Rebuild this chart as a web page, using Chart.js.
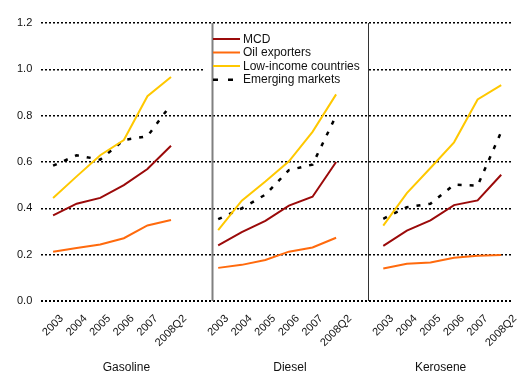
<!DOCTYPE html>
<html>
<head>
<meta charset="utf-8">
<script src="https://cdn.jsdelivr.net/npm/chart.js@4"></script>
<style>
  body { margin: 0; background: #fff; }
  #wrap { width: 518px; height: 374px; }
</style>
</head>
<body>
<div id="wrap"><canvas id="myChart" width="518" height="374"></canvas></div>
<script>
const years = ["2003", "2004", "2005", "2006", "2007", "2008Q2"];
const products = ["Gasoline", "Diesel", "Kerosene"];
const yTicks = [0, 0.2, 0.4, 0.6, 0.8, 1.0, 1.2];

// each series: gasoline, gap, diesel, gap, kerosene
const mcd = [0.37, 0.42, 0.445, 0.5, 0.57, 0.67, null,
  0.24, 0.297, 0.346, 0.412, 0.45, 0.6, null,
  0.238, 0.304, 0.348, 0.414, 0.434, 0.545];
const oilExporters = [0.213, 0.229, 0.244, 0.271, 0.326, 0.35, null,
  0.143, 0.156, 0.177, 0.213, 0.231, 0.273, null,
  0.14, 0.161, 0.166, 0.187, 0.195, 0.199];
const lowIncome = [0.445, 0.538, 0.629, 0.695, 0.884, 0.967, null,
  0.306, 0.433, 0.516, 0.603, 0.73, 0.892, null,
  0.325, 0.466, 0.574, 0.685, 0.87, 0.932];
const emerging = [0.584, 0.629, 0.61, 0.695, 0.711, 0.848, null,
  0.353, 0.4, 0.459, 0.565, 0.589, 0.8, null,
  0.355, 0.405, 0.42, 0.502, 0.498, 0.73];

// labels with a blank slot between the product groups
let labels = [];
products.forEach((p, i) => {
  if (i > 0) labels.push("");
  years.forEach((y) => labels.push(y));
});

const FONT = "Arial, 'Liberation Sans', sans-serif";
const SEPS = [6.72, 13.36];

const panelPlugin = {
  id: "panels",
  beforeDatasetsDraw(chart) {
    const { ctx, chartArea, scales } = chart;
    const x = scales.x;
    // white legend box
    const lx = 203, ly = 30, lw = 166, lh = 55;
    ctx.save();
    ctx.fillStyle = "#fff";
    ctx.fillRect(lx, ly, lw, lh);

    // separators between panels
    const sepStyle = [["#808080", 2], ["#333", 1]];
    SEPS.forEach((s, i) => {
      const px = Math.round(x.getPixelForValue(s)) + 0.5;
      ctx.strokeStyle = sepStyle[i][0];
      ctx.lineWidth = sepStyle[i][1];
      ctx.beginPath();
      ctx.moveTo(px, chartArea.top);
      ctx.lineTo(px, chartArea.bottom);
      ctx.stroke();
    });

    // legend entries
    ctx.font = "12px " + FONT;
    ctx.textBaseline = "middle";
    ctx.textAlign = "left";
    chart.data.datasets.forEach((ds, i) => {
      const yy = 39 + i * 13.5;
      ctx.strokeStyle = ds.borderColor;
      ctx.lineWidth = ds.borderWidth;
      if (ds.borderDash) {
        ctx.fillStyle = ds.borderColor;
        ctx.fillRect(213, yy - 1, 5, 2.5);
        ctx.fillRect(228, yy - 1, 5, 2.5);
      } else {
        ctx.beginPath();
        ctx.moveTo(213, yy);
        ctx.lineTo(240, yy);
        ctx.stroke();
      }
      ctx.fillStyle = "#111";
      ctx.fillText(ds.label, 243, yy + 0.5);
    });
    ctx.restore();
  },
  afterDraw(chart) {
    const { ctx, chartArea, scales } = chart;
    const x = scales.x;
    ctx.save();
    ctx.font = "11px " + FONT;
    ctx.fillStyle = "#111";
    ctx.textAlign = "center";
    ctx.textBaseline = "middle";
    const s = Math.SQRT1_2;
    labels.forEach((lab, i) => {
      if (!lab) return;
      const w = ctx.measureText(lab).width;
      const h = (w + 11) * s;
      const px = x.getPixelForValue(i);
      const py = chartArea.bottom + 12 + h / 2;
      ctx.save();
      ctx.translate(px, py);
      ctx.rotate(-Math.PI / 4);
      ctx.fillText(lab, 0, 0);
      ctx.restore();
    });

    // product names, centred in each panel
    const edges = [chartArea.left, x.getPixelForValue(SEPS[0]), x.getPixelForValue(SEPS[1]), chartArea.right];
    ctx.font = "12px " + FONT;
    products.forEach((p, i) => {
      ctx.fillText(p, (edges[i] + edges[i + 1]) / 2, chartArea.bottom + 67);
    });
    ctx.restore();
  },
};

new Chart("myChart", {
  type: "line",
  data: {
    labels: labels,
    datasets: [
      { label: "MCD", data: mcd, borderColor: "#9b0a0a", borderWidth: 2 },
      { label: "Oil exporters", data: oilExporters, borderColor: "#ff6a0d", borderWidth: 2 },
      { label: "Low-income countries", data: lowIncome, borderColor: "#ffc800", borderWidth: 2 },
      { label: "Emerging markets", data: emerging, borderColor: "#000", borderWidth: 2.5, borderDash: [4, 8] },
    ],
  },
  options: {
    responsive: false,
    animation: false,
    layout: { padding: { left: 8, right: 5, top: 23, bottom: 65 } },
    elements: { point: { radius: 0 }, line: { tension: 0 } },
    plugins: { legend: { display: false }, tooltip: { enabled: false } },
    scales: {
      x: {
        offset: true,
        grid: { display: false },
        border: { display: false },
        ticks: { display: false },
      },
      y: {
        min: 0,
        max: 1.2,
        afterBuildTicks: (axis) => {
          axis.ticks = yTicks.map((v) => ({ value: v }));
        },
        grid: {
          color: "#000",
          lineWidth: (c) => (c.tick && c.tick.value === 0 ? 2 : 1.5),
          drawTicks: false,
        },
        border: { display: false, dash: [2, 2] },
        ticks: {
          padding: 9,
          color: "#111",
          font: { size: 11, family: FONT },
          callback: (v) => Number(v).toFixed(1),
        },
      },
    },
  },
  plugins: [panelPlugin],
});
</script>
</body>
</html>
